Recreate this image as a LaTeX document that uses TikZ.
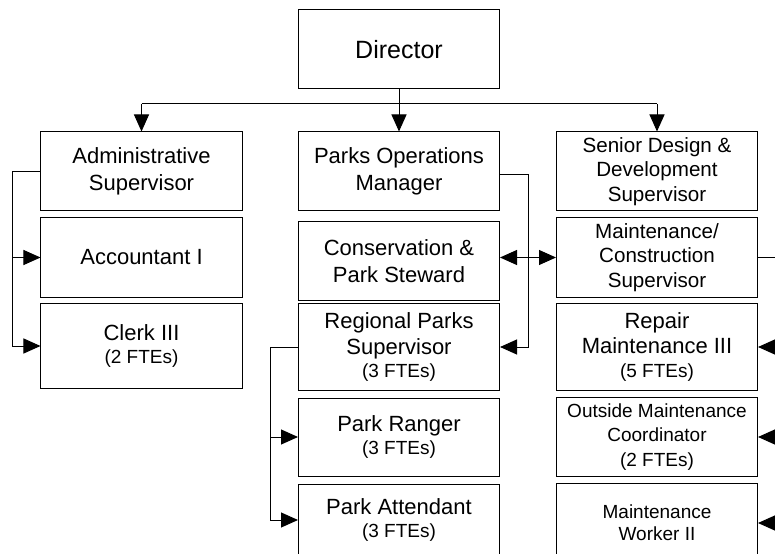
\documentclass[tikz,border=0pt]{standalone}
\usepackage{fontspec}
\setmainfont{Liberation Sans}
\usetikzlibrary{arrows.meta}

% font sizes used in the chart
\newcommand{\fsdir}{\fontsize{25bp}{30bp}\selectfont}
\newcommand{\fsmain}{\fontsize{22bp}{26.6bp}\selectfont}
\newcommand{\fsmid}{\fontsize{20.6bp}{24.3bp}\selectfont}
\newcommand{\fssmall}{\fontsize{19bp}{24.3bp}\selectfont}
\newcommand{\fsfte}{\fontsize{19bp}{23bp}\selectfont}

\begin{document}
\begin{tikzpicture}[x=1bp, y=-1bp,
  box/.style={draw=black, line width=1bp, minimum width=201bp, inner sep=0pt,
              align=center, font=\fsmain, text=black},
  link/.style={draw=black, line width=1bp},
  arr/.style={link, -{Triangle[length=17bp,width=15bp]}},
  arrboth/.style={link, {Triangle[length=17bp,width=15bp]}-{Triangle[length=17bp,width=15bp]}}]

\useasboundingbox (0,0) rectangle (775,554);
\clip (0,0) rectangle (775,554);

% top level
\node[box, minimum height=79bp, font=\fsdir] (dir) at (399,49.5) {Director};

% left column
\node[box, minimum height=79bp] (admin) at (141.5,171.5) {Administrative\\Supervisor};
\node[box, minimum height=79bp] (acct)  at (141.5,257.5) {Accountant I};
\node[box, minimum height=84bp] (clerk) at (141.5,346)   {Clerk III\\[-3.6bp]{\fsfte (2 FTEs)}};

% middle column
\node[box, minimum height=79bp] (pom)    at (399,171.5) {Parks Operations\\Manager};
\node[box, minimum height=78bp] (cons)   at (399,261)   {Conservation \&\\Park Steward};
\node[box, minimum height=86bp] (reg)    at (399,347)   {Regional Parks\\Supervisor\\[-3.6bp]{\fsfte (3 FTEs)}};
\node[box, minimum height=78bp] (ranger) at (399,437)   {Park Ranger\\[-3.3bp]{\fsfte (3 FTEs)}};
\node[box, minimum height=72bp] (attend) at (399,520)   {Park Attendant\\[-3.3bp]{\fsfte (3 FTEs)}};

% right column
\node[box, minimum height=79bp, font=\fsmid] (senior) at (657,171.5) {Senior Design \&\\Development\\Supervisor};
\node[box, minimum height=79bp, font=\fsmid] (mc)     at (657,257.5) {Maintenance/\\Construction\\Supervisor};
\node[box, minimum height=86bp, font=\fontsize{22bp}{24.7bp}\selectfont] (repair) at (657,347) {Repair\\Maintenance III\\{\fsfte (5 FTEs)}};
\node[box, minimum height=79bp, font=\fssmall] (omc) at (657,437) {Outside Maintenance\\Coordinator\\(2 FTEs)};
\node[box, minimum height=80bp, font=\fontsize{19bp}{21.7bp}\selectfont] (mw) at (657,523) {Maintenance\\Worker II};

% routing points for the connectors
\coordinate (bus) at (399,104);
\coordinate (abr) at (12,0);
\coordinate (pbr) at (528,0);
\coordinate (rbr) at (270,0);
\coordinate (mbr) at (795,0);
\coordinate (pomout) at ([yshift=-3.5bp]pom.east);

% director to the three heads
\draw[link] (admin.north |- bus) -- (senior.north |- bus);
\draw[arr] (dir.south) -- (pom.north);
\draw[arr] (admin.north |- bus) -- (admin.north);
\draw[arr] (senior.north |- bus) -- (senior.north);

% administrative branch
\draw[arr] (admin.west) -- (abr |- admin.west) -- (abr |- clerk.west) -- (clerk.west);
\draw[arr] (abr |- acct.west) -- (acct.west);

% parks operations branch
\draw[arr] (pomout) -- (pbr |- pomout) -- (pbr |- reg.east) -- (reg.east);
\draw[arrboth] (mc.west -| cons.east) -- (mc.west);

% regional parks branch
\draw[arr] (reg.west) -- (rbr |- reg.west) -- (rbr |- attend.west) -- (attend.west);
\draw[arr] (rbr |- ranger.west) -- (ranger.west);

% maintenance/construction branch
\draw[link] (mc.east) -- (mbr |- mc.east) -- (mbr |- mw.east);
\draw[arr] (mbr |- repair.east) -- (repair.east);
\draw[arr] (mbr |- omc.east) -- (omc.east);
\draw[arr] (mbr |- mw.east) -- (mw.east);

\end{tikzpicture}
\end{document}
